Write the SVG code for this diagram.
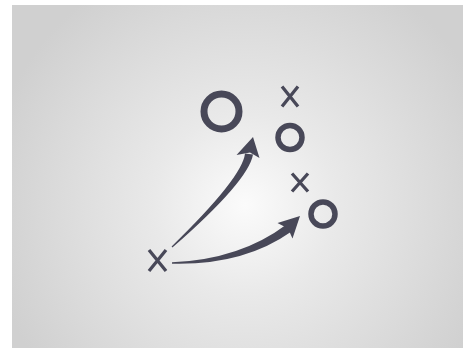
<svg xmlns="http://www.w3.org/2000/svg" width="463" height="349" viewBox="0 0 463 349">
  <defs>
    <radialGradient id="bg" cx="245" cy="205" r="260" gradientUnits="userSpaceOnUse">
      <stop offset="0" stop-color="#fbfbfb"/>
      <stop offset="0.35" stop-color="#e9e9e9"/>
      <stop offset="1" stop-color="#d0d0d0"/>
    </radialGradient>
    <style>
      .ring { fill: none; stroke: #484858; }
      .cross { stroke: #484858; stroke-width: 3.3; stroke-linecap: butt; fill: none; }
      .ink { fill: #484858; stroke: none; }
    </style>
  </defs>
  <rect x="0" y="0" width="463" height="349" fill="#ffffff"/>
  <rect x="12" y="5" width="451" height="343" fill="url(#bg)"/>

  <g id="connectors">
    <g id="arrow-1">
      <path class="ink" d="M172.4,247.5 Q248.5,181 253,154.4 L245,153.6 Q242.5,177.5 171.6,246.5 Z"/>
      <polygon class="ink" points="253,137 259.5,158 250,152.5 236.5,155"/>
    </g>
    <g id="arrow-2">
      <path class="ink" d="M172,263.7 Q243.5,265.5 291.5,231.5 L286.5,224.5 Q240,259.5 172,262.3 Z"/>
      <polygon class="ink" points="300,216 292.5,238.5 288,228.5 277.5,223"/>
    </g>
  </g>

  <g id="node-o-big"><circle class="ring" cx="221.5" cy="111.5" r="17.5" stroke-width="7"/></g>
  <g id="node-x-top"><path class="cross" d="M282,86.5 L298,106.5 M298,86.5 L282,106.5"/></g>
  <g id="node-o-mid"><circle class="ring" cx="290" cy="137.5" r="12" stroke-width="5.5"/></g>
  <g id="node-x-mid"><path class="cross" d="M292,173.5 L308,191.5 M308,173.5 L292,191.5"/></g>
  <g id="node-o-small"><circle class="ring" cx="323" cy="214" r="12" stroke-width="5.5"/></g>
  <g id="node-x-bottom"><path class="cross" d="M149,250 L166,271 M166,250 L149,271"/></g>
</svg>
